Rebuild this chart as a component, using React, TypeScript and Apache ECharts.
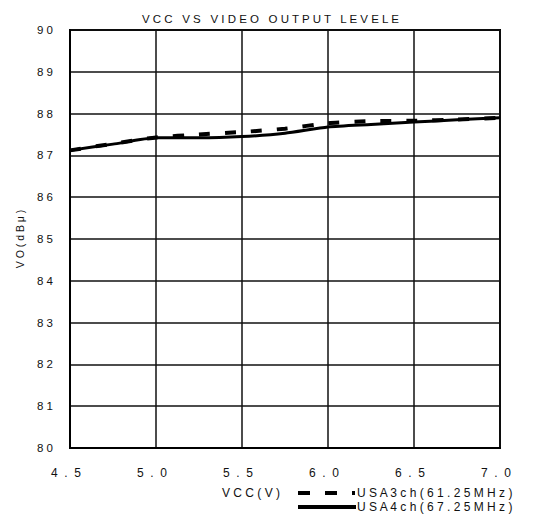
import React, { useEffect, useRef } from "react";
import * as echarts from "echarts";

const vcc = [4.5, 4.75, 5.0, 5.25, 5.5, 5.75, 6.0, 6.25, 6.5, 6.75, 7.0];
const usa3ch = [87.12, 87.28, 87.43, 87.5, 87.56, 87.64, 87.77, 87.82, 87.83, 87.86, 87.9];
const usa4ch = [87.12, 87.27, 87.42, 87.42, 87.45, 87.53, 87.68, 87.74, 87.8, 87.85, 87.9];
const seriesNames = ["USA3ch(61.25MHz)", "USA4ch(67.25MHz)"];
const titleText = "VCC VS VIDEO OUTPUT LEVELE";
const xAxisName = "VCC(V)";
const yAxisName = "VO(dBμ)";

const FONT = '"Liberation Sans", Arial, sans-serif';

// spread characters apart (the original uses wide letter spacing)
const sp = (s: string, gap = " ") =>
  s
    .split(" ")
    .map((w) => w.split("").join(gap))
    .join("   ");

export default function App() {
  const ref = useRef<HTMLDivElement>(null);
  useEffect(() => {
    if (!ref.current) return;
    const chart = echarts.init(ref.current, undefined, { renderer: "svg" });
    const textBase = { fontFamily: FONT, color: "#111" };
    const legendY = [493, 507];
    chart.setOption({
      animation: false,
      backgroundColor: "#fff",
      title: {
        text: sp(titleText),
        left: 137,
        top: 8,
        textStyle: { ...textBase, fontSize: 11.5, fontWeight: "normal" },
      },
      grid: {
        left: 70,
        right: 42,
        top: 30,
        bottom: 84,
        show: true,
        borderColor: "#000",
        borderWidth: 2,
      },
      xAxis: {
        type: "value",
        min: 4.5,
        max: 7.0,
        interval: 0.5,
        axisLine: { show: true, lineStyle: { color: "#000", width: 2 } },
        axisTick: { show: false },
        splitLine: { show: true, lineStyle: { color: "#111", width: 1.5 } },
        axisLabel: {
          ...textBase,
          fontSize: 12,
          margin: 19,
          padding: [0, 8, 0, 0],
          formatter: (v: number) => sp(v.toFixed(1), "  "),
        },
      },
      yAxis: {
        type: "value",
        min: 80,
        max: 90,
        interval: 1,
        name: sp(yAxisName),
        nameLocation: "middle",
        nameGap: 45,
        nameTextStyle: { ...textBase, fontSize: 10.5 },
        axisLine: { show: true, lineStyle: { color: "#000", width: 2 } },
        axisTick: { show: false },
        splitLine: { show: true, lineStyle: { color: "#111", width: 1.5 } },
        axisLabel: {
          ...textBase,
          fontSize: 11.5,
          margin: 17,
          padding: [7, 0, 0, 0],
          formatter: (v: number) => sp(String(v)),
        },
      },
      graphic: [
        {
          type: "text",
          x: 222,
          y: legendY[0],
          style: {
            text: sp(xAxisName),
            font: `12px ${FONT}`,
            fill: "#111",
            verticalAlign: "middle",
          },
        },
        {
          type: "line",
          shape: { x1: 298, y1: legendY[0], x2: 355, y2: legendY[0] },
          style: { stroke: "#000", lineWidth: 4, lineDash: [12, 15] },
        },
        {
          type: "line",
          shape: { x1: 298, y1: legendY[1], x2: 356, y2: legendY[1] },
          style: { stroke: "#000", lineWidth: 4 },
        },
        ...seriesNames.map((n, i) => ({
          type: "text",
          x: 357,
          y: legendY[i],
          style: {
            text: sp(n),
            font: `12px ${FONT}`,
            fill: "#111",
            verticalAlign: "middle",
          },
        })),
      ],
      series: [
        {
          name: seriesNames[0],
          type: "line",
          data: vcc.map((x, i) => [x, usa3ch[i]]),
          showSymbol: false,
          symbol: "none",
          smooth: 0.2,
          z: 3,
          lineStyle: { color: "#000", width: 4, type: [11, 15] },
          itemStyle: { color: "#000" },
        },
        {
          name: seriesNames[1],
          type: "line",
          data: vcc.map((x, i) => [x, usa4ch[i]]),
          showSymbol: false,
          symbol: "none",
          smooth: 0.2,
          z: 4,
          lineStyle: { color: "#000", width: 3, type: "solid" },
          itemStyle: { color: "#000" },
        },
      ],
    });
    return () => chart.dispose();
  }, []);
  return (
    <div
      ref={ref}
      style={{ position: "absolute", left: 0, top: 0, width: 542, height: 532 }}
    />
  );
}
